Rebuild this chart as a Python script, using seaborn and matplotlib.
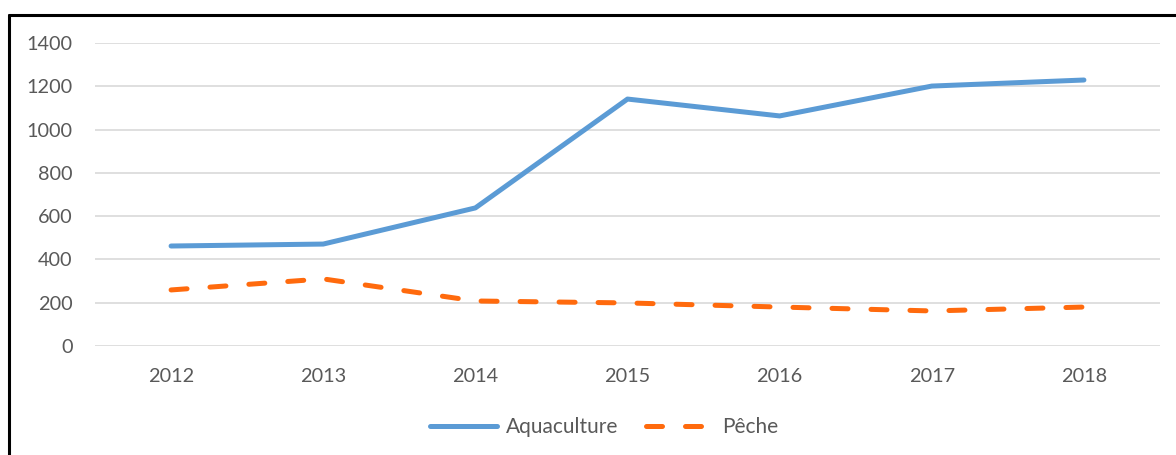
import pandas as pd
import numpy as np
import seaborn as sns
import matplotlib.pyplot as plt
from matplotlib.lines import Line2D

years = [2012, 2013, 2014, 2015, 2016, 2017, 2018]
aquaculture = [462, 471, 638, 1141, 1063, 1201, 1229]
peche = [259, 310, 208, 199, 180, 162, 180]
series_names = ['Aquaculture', 'Pêche']
y_ticks = [0, 200, 400, 600, 800, 1000, 1200, 1400]

df = pd.DataFrame({
    'annee': years * 2,
    'valeur': aquaculture + peche,
    'serie': [series_names[0]] * len(years) + [series_names[1]] * len(years),
})

sns.set_theme(style='white')
plt.rcParams['font.family'] = ['Lato', 'DejaVu Sans']

gris = '#595959'
couleurs = {'Aquaculture': '#5B9BD5', 'Pêche': '#FF6A0D'}
motif = (3.2, 4.6)

fig = plt.figure(figsize=(11.76, 4.55), dpi=100)
ax = fig.add_axes([95 / 1176, 109 / 455, 1065 / 1176, 303 / 455])

sns.lineplot(data=df, x='annee', y='valeur', hue='serie', style='serie',
             palette=couleurs, dashes={'Aquaculture': '', 'Pêche': motif},
             linewidth=3.6, ax=ax, legend=False,
             solid_capstyle='round', dash_capstyle='round')

ax.set_xlim(2011.5, 2018.5)
ax.set_ylim(0, 1400)
ax.set_xticks(years)
ax.set_yticks(y_ticks)
ax.set_xlabel('')
ax.set_ylabel('')
ax.grid(axis='y', color='#D9D9D9', linewidth=1.2)
ax.set_axisbelow(True)
for s in ax.spines.values():
    s.set_visible(False)
ax.tick_params(axis='both', length=0, labelsize=14.3, colors=gris)
ax.tick_params(axis='y', pad=16)
ax.tick_params(axis='x', pad=16)

# legende en bas
handles = [Line2D([], [], color=couleurs['Aquaculture'], lw=3.6, solid_capstyle='round'),
           Line2D([], [], color=couleurs['Pêche'], lw=3.6, ls=(0, motif), dash_capstyle='round')]
leg = fig.legend(handles, series_names, loc='center', bbox_to_anchor=(604 / 1176, 1 - 427 / 455),
                 ncol=2, frameon=False, fontsize=15, labelcolor=gris, handlelength=3.2,
                 handletextpad=0.45, columnspacing=1.3)

# cadre noir (haut et gauche)
fig.add_artist(Line2D([9 / 1176, 1], [1 - 15 / 455, 1 - 15 / 455], color='black', lw=2.2))
fig.add_artist(Line2D([9 / 1176, 9 / 1176], [0, 1 - 15 / 455], color='black', lw=2.2))

fig.savefig('out.png', dpi=100)
